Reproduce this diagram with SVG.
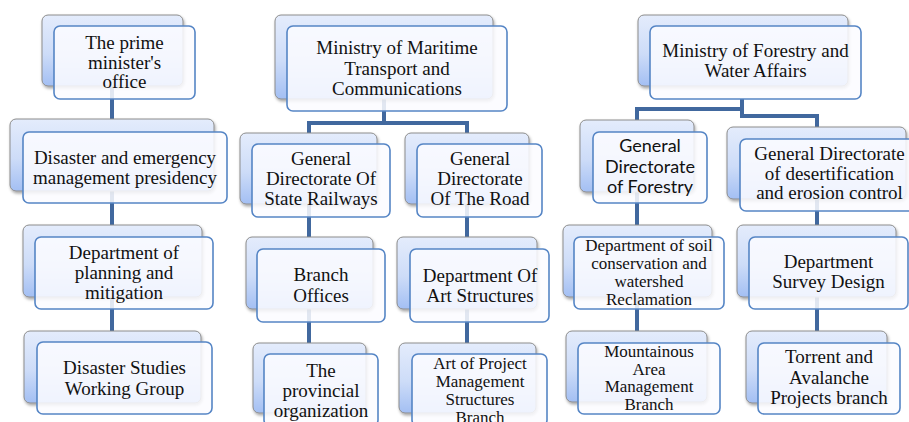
<svg xmlns="http://www.w3.org/2000/svg" width="909" height="422" viewBox="0 0 909 422">
  <defs>
    <linearGradient id="backFill" x1="0" y1="0" x2="0" y2="1">
      <stop offset="0" stop-color="#e4ecfc"/>
      <stop offset="0.55" stop-color="#cddcf8"/>
      <stop offset="1" stop-color="#a3bff3"/>
    </linearGradient>
    <filter id="cardShadow" x="-10%" y="-10%" width="125%" height="130%">
      <feDropShadow dx="1" dy="2" stdDeviation="1.6" flood-color="#000" flood-opacity="0.35"/>
    </filter>
    <style>
      .back { fill: url(#backFill); stroke: #8c8c8c; stroke-width: 1; filter: url(#cardShadow); }
      .front { fill: #fbfcff; fill-opacity: 0.86; stroke: #5585c5; stroke-width: 1.6; }
      .link { fill: none; stroke: #41689e; stroke-width: 4; stroke-linejoin: miter; }
      text { font-family: "Liberation Serif", "Times New Roman", serif; font-size: 19px; fill: #111; text-anchor: middle; }
      .sans { font-family: Lato, "Liberation Sans", Arial, sans-serif; font-size: 18px; }
      .small { font-size: 17px; }
    </style>
  </defs>
  <rect width="909" height="422" fill="#ffffff"/>

  <!-- connectors -->
  <g id="connectors">
    <path class="link" d="M112 86 V331"/>
    <path class="link" d="M384 99 V123 M309 343 V123 H467 V343"/>
    <path class="link" d="M742 99 V109 H637 V331"/>
    <path class="link" d="M742 99 V116 H817 V331"/>
  </g>

  <!-- column 1 -->
  <g id="node-prime-minister">
    <rect class="back" x="42" y="15" width="141" height="71" rx="6"/>
    <rect class="front" x="54" y="26" width="141" height="73" rx="6"/>
    <text x="124.5" y="49">The prime</text>
    <text x="124.5" y="68.5">minister's</text>
    <text x="124.5" y="88">office</text>
  </g>
  <g id="node-disaster-presidency">
    <rect class="back" x="10" y="119" width="204" height="72" rx="6"/>
    <rect class="front" x="23" y="132" width="204" height="71" rx="6"/>
    <text x="125" y="164">Disaster and emergency</text>
    <text x="125" y="183.5">management presidency</text>
  </g>
  <g id="node-planning">
    <rect class="back" x="23" y="225" width="179" height="72" rx="6"/>
    <rect class="front" x="35" y="237" width="178" height="72" rx="6"/>
    <text x="124" y="259">Department of</text>
    <text x="124" y="279">planning and</text>
    <text x="124" y="298.5">mitigation</text>
  </g>
  <g id="node-studies-group">
    <rect class="back" x="24" y="331" width="177" height="72" rx="6"/>
    <rect class="front" x="37" y="342" width="175" height="72" rx="6"/>
    <text x="124.5" y="374">Disaster Studies</text>
    <text x="124.5" y="395">Working Group</text>
  </g>

  <!-- column 2 -->
  <g id="node-maritime">
    <rect class="back" x="275" y="15" width="218" height="84" rx="6"/>
    <rect class="front" x="287" y="26" width="220" height="85" rx="6"/>
    <text x="397" y="54">Ministry of Maritime</text>
    <text x="397" y="75">Transport and</text>
    <text x="397" y="95">Communications</text>
  </g>
  <g id="node-railways">
    <rect class="back" x="240" y="133" width="137" height="71" rx="6"/>
    <rect class="front" x="252" y="144" width="138" height="73" rx="6"/>
    <text x="321" y="165">General</text>
    <text x="321" y="185">Directorate Of</text>
    <text x="321" y="205">State Railways</text>
  </g>
  <g id="node-road">
    <rect class="back" x="405" y="133" width="124" height="71" rx="6"/>
    <rect class="front" x="417" y="144" width="125" height="73" rx="6"/>
    <text x="480" y="165">General</text>
    <text x="480" y="185">Directorate</text>
    <text x="480" y="205">Of The Road</text>
  </g>
  <g id="node-branch-offices">
    <rect class="back" x="246" y="237" width="127" height="72" rx="6"/>
    <rect class="front" x="257" y="249" width="128" height="73" rx="6"/>
    <text x="321" y="281">Branch</text>
    <text x="321" y="302">Offices</text>
  </g>
  <g id="node-art-structures">
    <rect class="back" x="397" y="237" width="140" height="72" rx="6"/>
    <rect class="front" x="410" y="249" width="139" height="73" rx="6"/>
    <text x="480" y="282">Department Of</text>
    <text x="480" y="302">Art Structures</text>
  </g>
  <g id="node-provincial">
    <rect class="back" x="253" y="343" width="113" height="70" rx="6"/>
    <rect class="front" x="264" y="354" width="114" height="72" rx="6"/>
    <text x="321" y="377">The</text>
    <text x="321" y="397">provincial</text>
    <text x="321" y="417">organization</text>
  </g>
  <g id="node-project-branch">
    <rect class="back" x="399" y="343" width="137" height="70" rx="6"/>
    <rect class="front" x="412" y="354" width="135" height="72" rx="6"/>
    <text class="small" x="480" y="369">Art of Project</text>
    <text class="small" x="480" y="387">Management</text>
    <text class="small" x="480" y="405">Structures</text>
    <text class="small" x="480" y="422.5">Branch</text>
  </g>

  <!-- column 3 -->
  <g id="node-forestry-ministry">
    <rect class="back" x="638" y="15" width="210" height="71" rx="6"/>
    <rect class="front" x="650" y="26" width="211" height="73" rx="6"/>
    <text x="755.5" y="57">Ministry of Forestry and</text>
    <text x="755.5" y="77">Water Affairs</text>
  </g>
  <g id="node-forestry">
    <rect class="back" x="580" y="120" width="114" height="72" rx="6"/>
    <rect class="front" x="593" y="132" width="114" height="71" rx="6"/>
    <text class="sans" x="650" y="152">General</text>
    <text class="sans" x="650" y="172.5">Directorate</text>
    <text class="sans" x="650" y="193">of Forestry</text>
  </g>
  <g id="node-desertification">
    <rect class="back" x="727" y="127" width="179" height="72" rx="6"/>
    <rect class="front" x="740" y="139" width="179" height="72" rx="6"/>
    <text x="829.5" y="160">General Directorate</text>
    <text x="829.5" y="180">of desertification</text>
    <text x="829.5" y="199">and erosion control</text>
  </g>
  <g id="node-soil">
    <rect class="back" x="563" y="225" width="149" height="72" rx="6"/>
    <rect class="front" x="574" y="237" width="150" height="72" rx="6"/>
    <text class="small" x="649" y="251">Department of soil</text>
    <text class="small" x="649" y="269">conservation and</text>
    <text class="small" x="649" y="287">watershed</text>
    <text class="small" x="649" y="305">Reclamation</text>
  </g>
  <g id="node-survey">
    <rect class="back" x="737" y="225" width="159" height="72" rx="6"/>
    <rect class="front" x="749" y="237" width="159" height="72" rx="6"/>
    <text x="828.5" y="268">Department</text>
    <text x="828.5" y="288">Survey Design</text>
  </g>
  <g id="node-mountainous">
    <rect class="back" x="566" y="331" width="141" height="71" rx="6"/>
    <rect class="front" x="578" y="343" width="142" height="71" rx="6"/>
    <text class="small" x="649" y="357">Mountainous</text>
    <text class="small" x="649" y="374.5">Area</text>
    <text class="small" x="649" y="392">Management</text>
    <text class="small" x="649" y="409.5">Branch</text>
  </g>
  <g id="node-torrent">
    <rect class="back" x="746" y="331" width="141" height="72" rx="6"/>
    <rect class="front" x="758" y="343" width="142" height="71" rx="6"/>
    <text x="829" y="363">Torrent and</text>
    <text x="829" y="384">Avalanche</text>
    <text x="829" y="404">Projects branch</text>
  </g>
</svg>
